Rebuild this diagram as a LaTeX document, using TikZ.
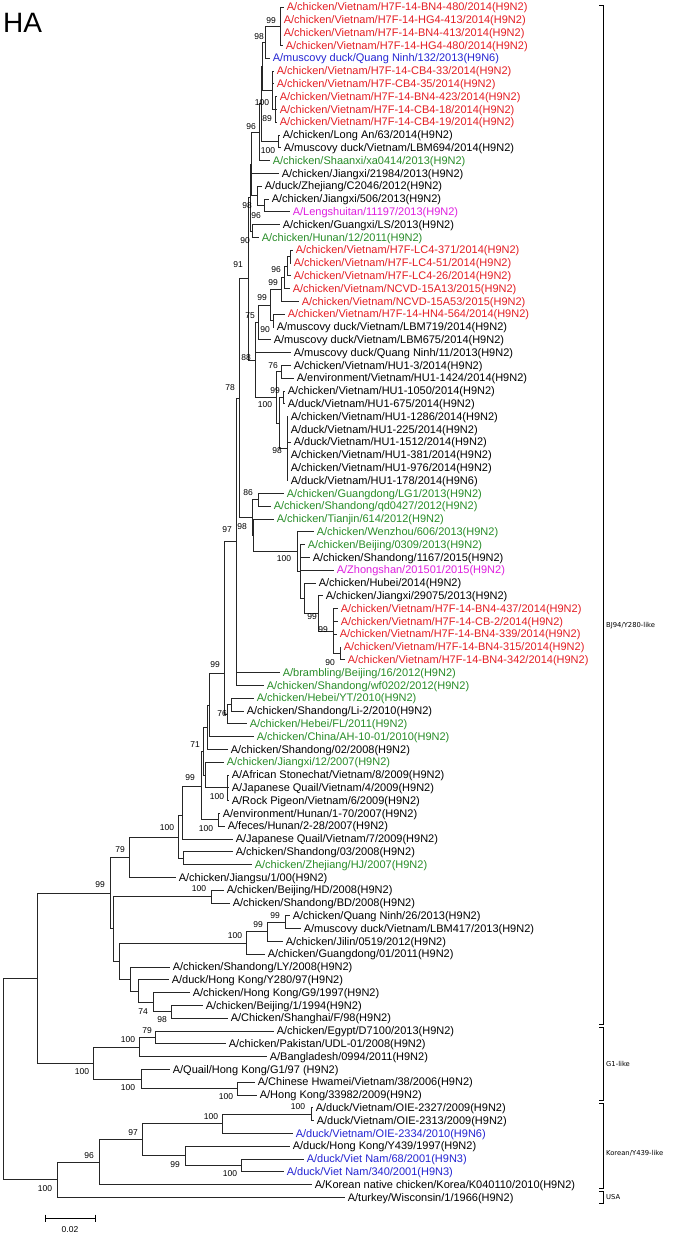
\documentclass[tikz,border=0pt]{standalone}
\usepackage{fontspec}
\setmainfont{Liberation Sans}
\newfontfamily\djv{DejaVu Sans}
\definecolor{cred}{RGB}{228,30,36}
\definecolor{cblue}{RGB}{36,36,210}
\definecolor{cgreen}{RGB}{40,140,40}
\definecolor{cmag}{RGB}{222,30,222}
\newcommand\tipnode[4]{\node[lab,text=#2] (l#1) at (#3,{7+12.8*(#1-1)}) {#4};}
\newcommand\kids[2]{\foreach \kk in {#2} {\draw[br] (#1) |- (\kk);}}
\begin{document}
\begin{tikzpicture}[x=1pt,y=-1pt,
  br/.style={line width=0.8pt,draw=black!85},
  lab/.style={anchor=west,inner xsep=2.6pt,inner ysep=0pt,text height=8.6pt,text depth=1.2pt,font=\fontsize{11}{13}\selectfont},
  bs/.style={inner sep=0pt,font=\fontsize{8.5}{10}\selectfont},
  clab/.style={anchor=west,inner sep=0pt,font=\djv\fontsize{6.8}{8}\selectfont},
  bk/.style={line width=0.8pt,draw=black}]
\useasboundingbox (0,0) rectangle (677,1233);
\node[anchor=base west,inner sep=0pt,font=\fontsize{28}{30}\selectfont] (title) at (3,33) {HA};
% internal nodes
\coordinate (n99t) at (280,26.2);
\coordinate (n98t) at (265,42.2);
\coordinate (n89) at (275,109.4);
\coordinate (n100b) at (272,90.2);
\coordinate (nV2) at (262,66.2);
\coordinate (n100c) at (278,141.4);
\coordinate (nV) at (261,103.8);
\coordinate (n96) at (259,132.2);
\coordinate (n96L) at (264,205.4);
\coordinate (n98L) at (257,195.8);
\coordinate (nS) at (251,164);
\coordinate (n90) at (252,231);
\coordinate (nQ) at (250,197.5);
\coordinate (nLC2) at (290,256.6);
\coordinate (nLC) at (287,266.2);
\coordinate (n96c) at (284,277.4);
\coordinate (n99y) at (281,289.4);
\coordinate (n90b) at (273,320.6);
\coordinate (n99x) at (270,305);
\coordinate (n75) at (258,322.4);
\coordinate (n76b) at (281,371.8);
\coordinate (n99h) at (283,397.4);
\coordinate (n98h) at (287,448.6);
\coordinate (nHU) at (279,423);
\coordinate (n100h) at (276,397.4);
\coordinate (n88) at (255,359.9);
\coordinate (n91) at (248,278.8);
\coordinate (n86) at (258,499.8);
\coordinate (n90r) at (340,653.4);
\coordinate (n99r) at (333,631);
\coordinate (n99s) at (318,613.4);
\coordinate (nHb) at (304,598.2);
\coordinate (nW1) at (300,571.4);
\coordinate (n100z) at (297,551.6);
\coordinate (nT2) at (253,535.3);
\coordinate (n98b) at (252,517.6);
\coordinate (n78) at (239,398.2);
\coordinate (n97) at (236,541.8);
\coordinate (nYT) at (231,704.6);
\coordinate (n76) at (227,714.2);
\coordinate (n99p) at (224,673);
\coordinate (n99d) at (209,705);
\coordinate (nX71) at (207,727.2);
\coordinate (n100v) at (227,787.8);
\coordinate (nJ) at (205,775);
\coordinate (n71) at (203.5,751);
\coordinate (nHun) at (218,819.8);
\coordinate (nE1) at (201,786);
\coordinate (nE1b) at (182,815);
\coordinate (nG2) at (183,858.2);
\coordinate (n100m) at (178,837);
\coordinate (n79) at (129,857.2);
\coordinate (nHD) at (211,896.6);
\coordinate (n99b) at (285,922.2);
\coordinate (n99a) at (267,931.8);
\coordinate (nD) at (246,943);
\coordinate (n98z) at (171,1011.8);
\coordinate (n74) at (153,1002.2);
\coordinate (nF) at (138,991);
\coordinate (nE) at (130,979);
\coordinate (nC) at (119,961);
\coordinate (nB) at (113,928.8);
\coordinate (nBJ) at (110,893);
\coordinate (n79g) at (155,1037.4);
\coordinate (n100a) at (139,1047);
\coordinate (n100cc) at (237,1088.6);
\coordinate (n100bb) at (141,1079);
\coordinate (nG1) at (93,1063);
\coordinate (nA) at (37,978);
\coordinate (n100d) at (311,1114.2);
\coordinate (n100k) at (222,1123.8);
\coordinate (n100e) at (241,1165.4);
\coordinate (n99k) at (185,1155.8);
\coordinate (n97k) at (142,1139.8);
\coordinate (n96k) at (99,1162.2);
\coordinate (nK) at (57,1179.8);
\coordinate (root) at (3,1079);
% leaves
\tipnode{1}{cred}{284}{A/chicken/Vietnam/H7F-14-BN4-480/2014(H9N2)}
\tipnode{2}{cred}{281}{A/chicken/Vietnam/H7F-14-HG4-413/2014(H9N2)}
\tipnode{3}{cred}{281}{A/chicken/Vietnam/H7F-14-BN4-413/2014(H9N2)}
\tipnode{4}{cred}{283}{A/chicken/Vietnam/H7F-14-HG4-480/2014(H9N2)}
\tipnode{5}{cblue}{270}{A/muscovy duck/Quang Ninh/132/2013(H9N6)}
\tipnode{6}{cred}{274}{A/chicken/Vietnam/H7F-14-CB4-33/2014(H9N2)}
\tipnode{7}{cred}{274}{A/chicken/Vietnam/H7F-CB4-35/2014(H9N2)}
\tipnode{8}{cred}{277}{A/chicken/Vietnam/H7F-14-BN4-423/2014(H9N2)}
\tipnode{9}{cred}{277}{A/chicken/Vietnam/H7F-14-CB4-18/2014(H9N2)}
\tipnode{10}{cred}{277}{A/chicken/Vietnam/H7F-14-CB4-19/2014(H9N2)}
\tipnode{11}{black}{280}{A/chicken/Long An/63/2014(H9N2)}
\tipnode{12}{black}{281}{A/muscovy duck/Vietnam/LBM694/2014(H9N2)}
\tipnode{13}{cgreen}{270}{A/chicken/Shaanxi/xa0414/2013(H9N2)}
\tipnode{14}{black}{279}{A/chicken/Jiangxi/21984/2013(H9N2)}
\tipnode{15}{black}{262}{A/duck/Zhejiang/C2046/2012(H9N2)}
\tipnode{16}{black}{269}{A/chicken/Jiangxi/506/2013(H9N2)}
\tipnode{17}{cmag}{290}{A/Lengshuitan/11197/2013(H9N2)}
\tipnode{18}{black}{280}{A/chicken/Guangxi/LS/2013(H9N2)}
\tipnode{19}{cgreen}{259}{A/chicken/Hunan/12/2011(H9N2)}
\tipnode{20}{cred}{293}{A/chicken/Vietnam/H7F-LC4-371/2014(H9N2)}
\tipnode{21}{cred}{291}{A/chicken/Vietnam/H7F-LC4-51/2014(H9N2)}
\tipnode{22}{cred}{291}{A/chicken/Vietnam/H7F-LC4-26/2014(H9N2)}
\tipnode{23}{cred}{290}{A/chicken/Vietnam/NCVD-15A13/2015(H9N2)}
\tipnode{24}{cred}{299}{A/chicken/Vietnam/NCVD-15A53/2015(H9N2)}
\tipnode{25}{cred}{285}{A/chicken/Vietnam/H7F-14-HN4-564/2014(H9N2)}
\tipnode{26}{black}{274}{A/muscovy duck/Vietnam/LBM719/2014(H9N2)}
\tipnode{27}{black}{271}{A/muscovy duck/Vietnam/LBM675/2014(H9N2)}
\tipnode{28}{black}{291}{A/muscovy duck/Quang Ninh/11/2013(H9N2)}
\tipnode{29}{black}{291}{A/chicken/Vietnam/HU1-3/2014(H9N2)}
\tipnode{30}{black}{294}{A/environment/Vietnam/HU1-1424/2014(H9N2)}
\tipnode{31}{black}{285}{A/chicken/Vietnam/HU1-1050/2014(H9N2)}
\tipnode{32}{black}{285}{A/duck/Vietnam/HU1-675/2014(H9N2)}
\tipnode{33}{black}{288}{A/chicken/Vietnam/HU1-1286/2014(H9N2)}
\tipnode{34}{black}{288}{A/duck/Vietnam/HU1-225/2014(H9N2)}
\tipnode{35}{black}{291}{A/duck/Vietnam/HU1-1512/2014(H9N2)}
\tipnode{36}{black}{288}{A/chicken/Vietnam/HU1-381/2014(H9N2)}
\tipnode{37}{black}{288}{A/chicken/Vietnam/HU1-976/2014(H9N2)}
\tipnode{38}{black}{288}{A/duck/Vietnam/HU1-178/2014(H9N6)}
\tipnode{39}{cgreen}{284}{A/chicken/Guangdong/LG1/2013(H9N2)}
\tipnode{40}{cgreen}{271}{A/chicken/Shandong/qd0427/2012(H9N2)}
\tipnode{41}{cgreen}{274}{A/chicken/Tianjin/614/2012(H9N2)}
\tipnode{42}{cgreen}{314}{A/chicken/Wenzhou/606/2013(H9N2)}
\tipnode{43}{cgreen}{305}{A/chicken/Beijing/0309/2013(H9N2)}
\tipnode{44}{black}{310}{A/chicken/Shandong/1167/2015(H9N2)}
\tipnode{45}{cmag}{334}{A/Zhongshan/201501/2015(H9N2)}
\tipnode{46}{black}{316}{A/chicken/Hubei/2014(H9N2)}
\tipnode{47}{black}{323}{A/chicken/Jiangxi/29075/2013(H9N2)}
\tipnode{48}{cred}{338}{A/chicken/Vietnam/H7F-14-BN4-437/2014(H9N2)}
\tipnode{49}{cred}{338}{A/chicken/Vietnam/H7F-14-CB-2/2014(H9N2)}
\tipnode{50}{cred}{337}{A/chicken/Vietnam/H7F-14-BN4-339/2014(H9N2)}
\tipnode{51}{cred}{341}{A/chicken/Vietnam/H7F-14-BN4-315/2014(H9N2)}
\tipnode{52}{cred}{345}{A/chicken/Vietnam/H7F-14-BN4-342/2014(H9N2)}
\tipnode{53}{cgreen}{280}{A/brambling/Beijing/16/2012(H9N2)}
\tipnode{54}{cgreen}{264}{A/chicken/Shandong/wf0202/2012(H9N2)}
\tipnode{55}{cgreen}{254}{A/chicken/Hebei/YT/2010(H9N2)}
\tipnode{56}{black}{244}{A/chicken/Shandong/Li-2/2010(H9N2)}
\tipnode{57}{cgreen}{247}{A/chicken/Hebei/FL/2011(H9N2)}
\tipnode{58}{cgreen}{254}{A/chicken/China/AH-10-01/2010(H9N2)}
\tipnode{59}{black}{228}{A/chicken/Shandong/02/2008(H9N2)}
\tipnode{60}{cgreen}{224}{A/chicken/Jiangxi/12/2007(H9N2)}
\tipnode{61}{black}{229}{A/African Stonechat/Vietnam/8/2009(H9N2)}
\tipnode{62}{black}{229}{A/Japanese Quail/Vietnam/4/2009(H9N2)}
\tipnode{63}{black}{229}{A/Rock Pigeon/Vietnam/6/2009(H9N2)}
\tipnode{64}{black}{220}{A/environment/Hunan/1-70/2007(H9N2)}
\tipnode{65}{black}{225}{A/feces/Hunan/2-28/2007(H9N2)}
\tipnode{66}{black}{233}{A/Japanese Quail/Vietnam/7/2009(H9N2)}
\tipnode{67}{black}{233}{A/chicken/Shandong/03/2008(H9N2)}
\tipnode{68}{cgreen}{252}{A/chicken/Zhejiang/HJ/2007(H9N2)}
\tipnode{69}{black}{176}{A/chicken/Jiangsu/1/00(H9N2)}
\tipnode{70}{black}{224}{A/chicken/Beijing/HD/2008(H9N2)}
\tipnode{71}{black}{230}{A/chicken/Shandong/BD/2008(H9N2)}
\tipnode{72}{black}{290}{A/chicken/Quang Ninh/26/2013(H9N2)}
\tipnode{73}{black}{301}{A/muscovy duck/Vietnam/LBM417/2013(H9N2)}
\tipnode{74}{black}{283}{A/chicken/Jilin/0519/2012(H9N2)}
\tipnode{75}{black}{265}{A/chicken/Guangdong/01/2011(H9N2)}
\tipnode{76}{black}{170}{A/chicken/Shandong/LY/2008(H9N2)}
\tipnode{77}{black}{169}{A/duck/Hong Kong/Y280/97(H9N2)}
\tipnode{78}{black}{190}{A/chicken/Hong Kong/G9/1997(H9N2)}
\tipnode{79}{black}{203}{A/chicken/Beijing/1/1994(H9N2)}
\tipnode{80}{black}{228}{A/Chicken/Shanghai/F/98(H9N2)}
\tipnode{81}{black}{274}{A/chicken/Egypt/D7100/2013(H9N2)}
\tipnode{82}{black}{226}{A/chicken/Pakistan/UDL-01/2008(H9N2)}
\tipnode{83}{black}{267}{A/Bangladesh/0994/2011(H9N2)}
\tipnode{84}{black}{170}{A/Quail/Hong Kong/G1/97 (H9N2)}
\tipnode{85}{black}{255}{A/Chinese Hwamei/Vietnam/38/2006(H9N2)}
\tipnode{86}{black}{257}{A/Hong Kong/33982/2009(H9N2)}
\tipnode{87}{black}{313}{A/duck/Vietnam/OIE-2327/2009(H9N2)}
\tipnode{88}{black}{314}{A/duck/Vietnam/OIE-2313/2009(H9N2)}
\tipnode{89}{cblue}{293}{A/duck/Vietnam/OIE-2334/2010(H9N6)}
\tipnode{90}{black}{290}{A/duck/Hong Kong/Y439/1997(H9N2)}
\tipnode{91}{cblue}{304}{A/duck/Viet Nam/68/2001(H9N3)}
\tipnode{92}{cblue}{284}{A/duck/Viet Nam/340/2001(H9N3)}
\tipnode{93}{black}{312}{A/Korean native chicken/Korea/K040110/2010(H9N2)}
\tipnode{94}{black}{345}{A/turkey/Wisconsin/1/1966(H9N2)}
% branches
\kids{n99t}{l1.west,l2.west,l3.west,l4.west}
\kids{n98t}{n99t,l5.west}
\kids{n89}{l8.west,l9.west,l10.west}
\kids{n100b}{l6.west,l7.west,n89}
\kids{nV2}{n98t,n100b}
\kids{n100c}{l11.west,l12.west}
\kids{nV}{nV2,n100c}
\kids{n96}{nV,l13.west}
\kids{n96L}{l16.west,l17.west}
\kids{n98L}{l15.west,n96L}
\kids{nS}{n96,l14.west,n98L}
\kids{n90}{l18.west,l19.west}
\kids{nQ}{nS,n90}
\kids{nLC2}{l20.west,l21.west}
\kids{nLC}{nLC2,l22.west}
\kids{n96c}{nLC,l23.west}
\kids{n99y}{n96c,l24.west}
\kids{n90b}{l25.west,l26.west}
\kids{n99x}{n99y,n90b}
\kids{n75}{n99x,l27.west}
\kids{n76b}{l29.west,l30.west}
\kids{n99h}{l31.west,l32.west}
\kids{n98h}{l33.west,l34.west,l35.west,l36.west,l37.west,l38.west}
\kids{nHU}{n99h,n98h}
\kids{n100h}{n76b,nHU}
\kids{n88}{n75,l28.west,n100h}
\kids{n91}{nQ,n88}
\kids{n86}{l39.west,l40.west}
\kids{n90r}{l51.west,l52.west}
\kids{n99r}{l48.west,l49.west,l50.west,n90r}
\kids{n99s}{l47.west,n99r}
\kids{nHb}{l46.west,n99s}
\kids{nW1}{l43.west,l44.west,l45.west,nHb}
\kids{n100z}{l42.west,nW1}
\kids{nT2}{l41.west,n100z}
\kids{n98b}{n86,nT2}
\kids{n78}{n91,n98b}
\kids{n97}{n78,l53.west,l54.west}
\kids{nYT}{l55.west,l56.west}
\kids{n76}{nYT,l57.west}
\kids{n99p}{n97,n76}
\kids{n99d}{n99p,l58.west}
\kids{nX71}{n99d,l59.west}
\kids{n100v}{l61.west,l62.west,l63.west}
\kids{nJ}{l60.west,n100v}
\kids{n71}{nX71,nJ}
\kids{nHun}{l64.west,l65.west}
\kids{nE1}{n71,nHun}
\kids{nE1b}{nE1,l66.west}
\kids{nG2}{l67.west,l68.west}
\kids{n100m}{nE1b,nG2}
\kids{n79}{n100m,l69.west}
\kids{nHD}{l70.west,l71.west}
\kids{n99b}{l72.west,l73.west}
\kids{n99a}{n99b,l74.west}
\kids{nD}{n99a,l75.west}
\kids{n98z}{l79.west,l80.west}
\kids{n74}{l78.west,n98z}
\kids{nF}{l77.west,n74}
\kids{nE}{l76.west,nF}
\kids{nC}{nD,nE}
\kids{nB}{nHD,nC}
\kids{nBJ}{n79,nB}
\kids{n79g}{l81.west,l82.west}
\kids{n100a}{n79g,l83.west}
\kids{n100cc}{l85.west,l86.west}
\kids{n100bb}{l84.west,n100cc}
\kids{nG1}{n100a,n100bb}
\kids{nA}{nBJ,nG1}
\kids{n100d}{l87.west,l88.west}
\kids{n100k}{n100d,l89.west}
\kids{n100e}{l91.west,l92.west}
\kids{n99k}{l90.west,n100e}
\kids{n97k}{n100k,n99k}
\kids{n96k}{n97k,l93.west}
\kids{nK}{n96k,l94.west}
\kids{root}{nA,nK}
% bootstrap values
\node[bs] (b1) at (271,21) {99};
\node[bs] (b2) at (259,37) {98};
\node[bs] (b3) at (262,103) {100};
\node[bs] (b4) at (267,119) {89};
\node[bs] (b5) at (251,127) {96};
\node[bs] (b6) at (268,151) {100};
\node[bs] (b7) at (247,206) {98};
\node[bs] (b8) at (256,216) {96};
\node[bs] (b9) at (245,241) {90};
\node[bs] (b10) at (238,265) {91};
\node[bs] (b11) at (276,270) {96};
\node[bs] (b12) at (273,283) {99};
\node[bs] (b13) at (262,298) {99};
\node[bs] (b14) at (250,316) {75};
\node[bs] (b15) at (265,330) {90};
\node[bs] (b16) at (246,358) {88};
\node[bs] (b17) at (273,366) {76};
\node[bs] (b18) at (230,388) {78};
\node[bs] (b19) at (275,391) {99};
\node[bs] (b20) at (265,405) {100};
\node[bs] (b21) at (277,451) {98};
\node[bs] (b22) at (248,493) {86};
\node[bs] (b23) at (242,527) {98};
\node[bs] (b24) at (227,530) {97};
\node[bs] (b25) at (284,559) {100};
\node[bs] (b26) at (312,617) {99};
\node[bs] (b27) at (323,630) {99};
\node[bs] (b28) at (330,663) {90};
\node[bs] (b29) at (215,665) {99};
\node[bs] (b30) at (222,714) {76};
\node[bs] (b31) at (195,745) {71};
\node[bs] (b32) at (190,778) {99};
\node[bs] (b33) at (217,797) {100};
\node[bs] (b34) at (206,829) {100};
\node[bs] (b35) at (167,828) {100};
\node[bs] (b36) at (120,850) {79};
\node[bs] (b37) at (100,885) {99};
\node[bs] (b38) at (199,889) {100};
\node[bs] (b39) at (275,916) {99};
\node[bs] (b40) at (258,925) {99};
\node[bs] (b41) at (235,936) {100};
\node[bs] (b42) at (143,1012) {74};
\node[bs] (b43) at (162,1020) {98};
\node[bs] (b44) at (147,1031) {79};
\node[bs] (b45) at (128,1040) {100};
\node[bs] (b46) at (82,1072) {100};
\node[bs] (b47) at (128,1088) {100};
\node[bs] (b48) at (226,1097) {100};
\node[bs] (b49) at (298,1107) {100};
\node[bs] (b50) at (211,1117) {100};
\node[bs] (b51) at (133,1133) {97};
\node[bs] (b52) at (89,1156) {96};
\node[bs] (b53) at (175,1165) {99};
\node[bs] (b54) at (230,1174) {100};
\node[bs] (b55) at (45,1189) {100};
% clade brackets
\coordinate (c1a) at (603,5); \coordinate (c1b) at (603,1024);
\coordinate (c2a) at (603,1027); \coordinate (c2b) at (603,1100);
\coordinate (c3a) at (603,1103); \coordinate (c3b) at (603,1188);
\coordinate (c4a) at (603,1191); \coordinate (c4b) at (603,1203);
\foreach \pa/\pb in {c1a/c1b,c2a/c2b,c3a/c3b,c4a/c4b}
  \draw[bk] ([xshift=-4pt]\pa) -- (\pa) -- (\pb) -- ([xshift=-4pt]\pb);
\node[clab] (k1) at (606,626) {BJ94/Y280-like};
\node[clab] (k2) at (606,1064) {G1-like};
\node[clab] (k3) at (606,1153) {Korean/Y439-like};
\node[clab] (k4) at (606,1197) {USA};
% scale bar
\coordinate (s1) at (45,1218); \coordinate (s2) at (95,1218);
\draw[bk] (s1) -- (s2);
\draw[bk] ([yshift=3.5pt]s1) -- ([yshift=-3.5pt]s1);
\draw[bk] ([yshift=3.5pt]s2) -- ([yshift=-3.5pt]s2);
\node[bs] (sc) at (70,1230) {0.02};
\end{tikzpicture}
\end{document}
